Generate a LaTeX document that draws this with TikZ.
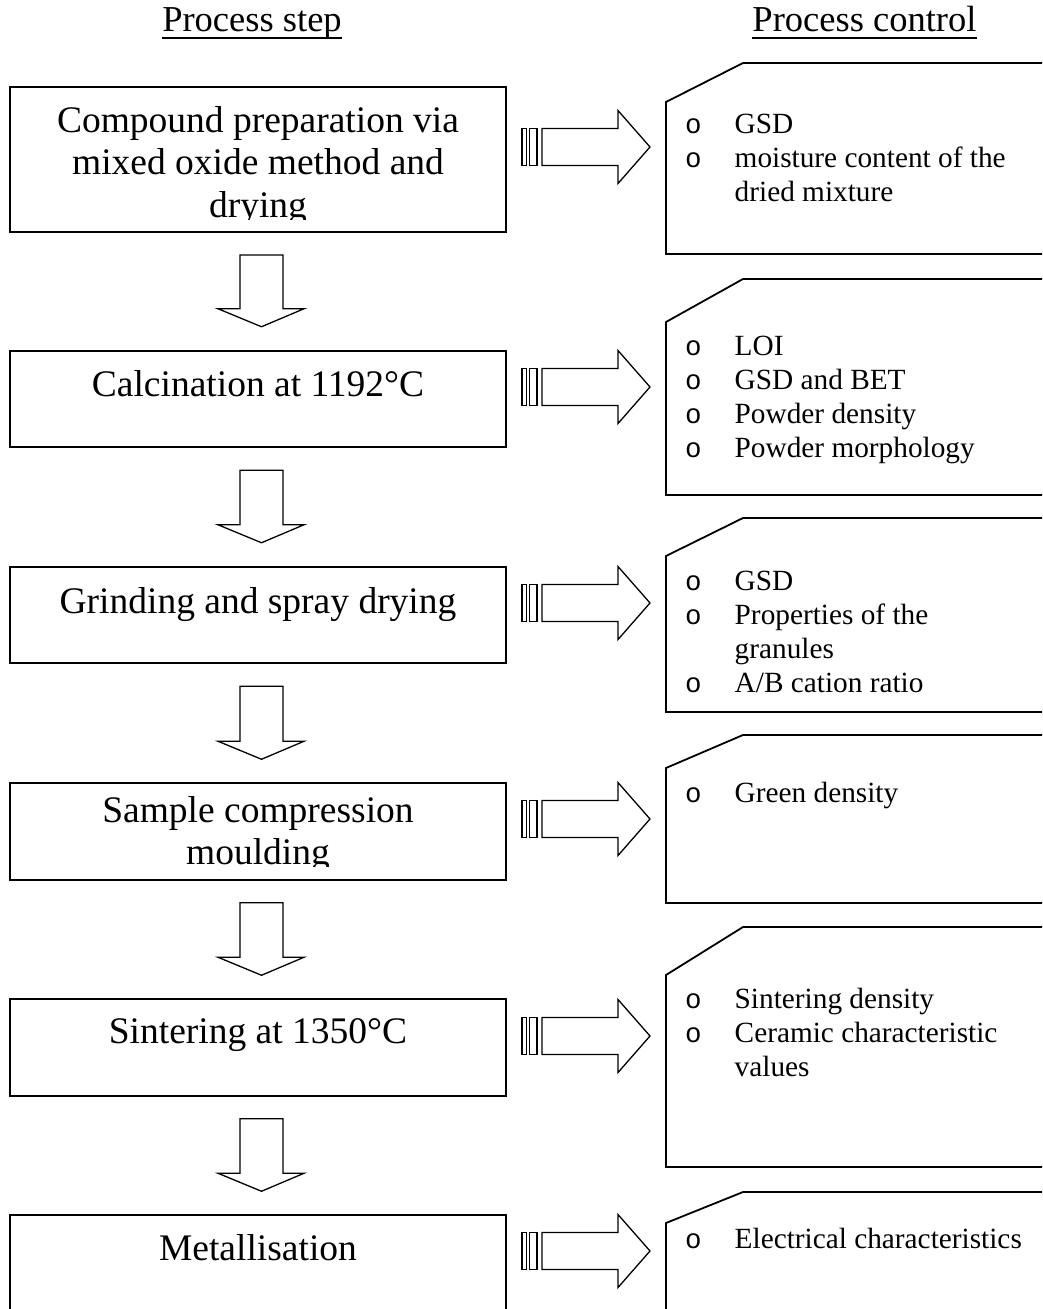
\documentclass[tikz,border=0pt]{standalone}
\usepackage{fontspec}
\setmainfont{Liberation Serif}
\newfontfamily\bulletfont{Liberation Mono}
\usetikzlibrary{calc}

% hollow bullet of the control lists
\newcommand{\bulo}{\makebox[49.5pt][l]{\fontsize{27.5}{27.5}\bulletfont o}}
\newcommand{\bulskip}{\hspace*{49.5pt}}

\tikzset{
  stepbox/.style={draw, line width=1.8pt, inner sep=0pt, outer sep=0pt, minimum width=496pt},
  steptext/.style={inner sep=0pt, anchor=base, font=\fontsize{37.5}{42.5}\selectfont},
  headtext/.style={inner sep=0pt, anchor=base, font=\fontsize{36.5}{40}\selectfont},
  ctrlbox/.style={draw, line width=1.8pt, line join=miter},
  ctrltext/.style={inner sep=0pt, anchor=base west, font=\fontsize{29.3}{34.3}\selectfont},
  blk/.style={draw, line width=1.3pt, line join=miter},
}

% hollow block arrow pointing down from one step box to the next
\newcommand{\flowdown}[2]{%
  \draw[blk] ($(#1.south)+(-18,-23)$) -- ($(#1.south)+(25,-23)$)
    -- ($(#2.north)+(25,42)$) -- ($(#2.north)+(46,42)$)
    -- ($(#2.north)+(3.5,24)$) -- ($(#2.north)+(-40,42)$)
    -- ($(#2.north)+(-18,42)$) -- cycle;}

% striped block arrow from a step box to its control box
\newcommand{\flowright}[2]{%
  \draw[blk] ($(#1.east |- #2)+(16,-18.5)$) rectangle ++(4.5,37);
  \draw[blk] ($(#1.east |- #2)+(23.5,-18.5)$) rectangle ++(7.5,37);
  \draw[blk] ($(#1.east |- #2)+(36,-18.5)$) -- ($(#2)+(-48,-18.5)$)
    -- ($(#2)+(-48,-36.5)$) -- ($(#2)+(-16,0)$) -- ($(#2)+(-48,36.5)$)
    -- ($(#2)+(-48,18.5)$) -- ($(#1.east |- #2)+(36,18.5)$) -- cycle;}

\begin{document}
\begin{tikzpicture}[x=1pt, y=1pt]
\useasboundingbox (0,0) rectangle (1042,-1309);
\clip (0,0) rectangle (1042,-1309);
\fill[white] (0,0) rectangle (1042,-1309);

% column headings
\node[headtext] (h1) at (252,-31) {Process step};
\node[headtext] (h2) at (864.5,-31) {Process control};
\draw[line width=1.5pt] ($(h1.base west)+(0,-7)$) -- ($(h1.base east)+(0,-7)$);
\draw[line width=1.5pt] ($(h2.base west)+(0,-7)$) -- ($(h2.base east)+(0,-7)$);

% process steps
\node[stepbox, minimum height=145pt] (s1) at (258,-159.5) {};
\node[stepbox, minimum height=96.5pt] (s2) at (258,-399) {};
\node[stepbox, minimum height=96.5pt] (s3) at (258,-615) {};
\node[stepbox, minimum height=96.5pt] (s4) at (258,-831.5) {};
\node[stepbox, minimum height=96.5pt] (s5) at (258,-1047.5) {};
\node[stepbox, minimum height=96.5pt] (s6) at (258,-1263.5) {};

\begin{scope}
  \clip (10,-87) rectangle (506,-219);
  \node[steptext] (t1) at (258,-132) {\begin{tabular}[t]{@{}c@{}}Compound preparation via\\mixed oxide method and\\drying\end{tabular}};
\end{scope}
\node[steptext] (t2) at (258,-396) {Calcination at 1192°C};
\node[steptext] (t3) at (258,-613) {Grinding and spray drying};
\begin{scope}
  \clip (10,-783) rectangle (506,-866);
  \node[steptext] (t4) at (258,-822) {\begin{tabular}[t]{@{}c@{}}Sample compression\\moulding\end{tabular}};
\end{scope}
\node[steptext] (t5) at (258,-1043) {Sintering at 1350°C};
\node[steptext] (t6) at (258,-1260) {Metallisation};

% control boxes (snipped top-left corner)
\draw[ctrlbox] (666,-254) -- (666,-102) -- (743,-63) -- (1070,-63) -- (1070,-254) -- cycle;
\draw[ctrlbox] (666,-495) -- (666,-322) -- (743,-279) -- (1070,-279) -- (1070,-495) -- cycle;
\draw[ctrlbox] (666,-712) -- (666,-556) -- (743,-518) -- (1070,-518) -- (1070,-712) -- cycle;
\draw[ctrlbox] (666,-903) -- (666,-768) -- (743,-735) -- (1070,-735) -- (1070,-903) -- cycle;
\draw[ctrlbox] (666,-1167) -- (666,-975) -- (743,-927) -- (1070,-927) -- (1070,-1167) -- cycle;
\draw[ctrlbox] (666,-1340) -- (666,-1223) -- (743,-1192) -- (1070,-1192) -- (1070,-1340) -- cycle;

\coordinate (c1) at (666,-147);
\coordinate (c2) at (666,-387);
\coordinate (c3) at (666,-603);
\coordinate (c4) at (666,-819);
\coordinate (c5) at (666,-1036);
\coordinate (c6) at (666,-1251);

\node[ctrltext] (k1) at (685,-133) {\begin{tabular}[t]{@{}l@{}}\bulo GSD\\\bulo moisture content of the\\\bulskip dried mixture\end{tabular}};
\node[ctrltext] (k2) at (685,-355) {\begin{tabular}[t]{@{}l@{}}\bulo LOI\\\bulo GSD and BET\\\bulo Powder density\\\bulo Powder morphology\end{tabular}};
\node[ctrltext] (k3) at (685,-590) {\begin{tabular}[t]{@{}l@{}}\bulo GSD\\\bulo Properties of the\\\bulskip granules\\\bulo A/B cation ratio\end{tabular}};
\node[ctrltext] (k4) at (685,-802) {\bulo Green density};
\node[ctrltext] (k5) at (685,-1008) {\begin{tabular}[t]{@{}l@{}}\bulo Sintering density\\\bulo Ceramic characteristic\\\bulskip values\end{tabular}};
\node[ctrltext] (k6) at (685,-1248) {\bulo Electrical characteristics};

% arrows between the steps
\flowdown{s1}{s2}
\flowdown{s2}{s3}
\flowdown{s3}{s4}
\flowdown{s4}{s5}
\flowdown{s5}{s6}

% arrows to the controls
\flowright{s1}{c1}
\flowright{s2}{c2}
\flowright{s3}{c3}
\flowright{s4}{c4}
\flowright{s5}{c5}
\flowright{s6}{c6}
\end{tikzpicture}
\end{document}
